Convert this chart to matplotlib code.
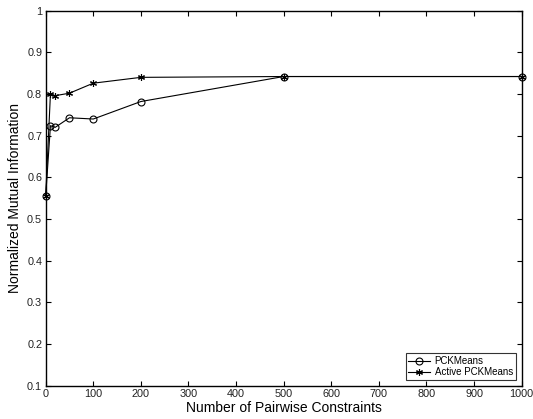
import matplotlib
matplotlib.use("Agg")
import matplotlib.pyplot as plt

plt.rcParams['font.family'] = ['Liberation Sans', 'DejaVu Sans']

constraints = [0, 10, 20, 50, 100, 200, 500, 1000]
pckmeans = [0.555, 0.724, 0.720, 0.743, 0.740, 0.782, 0.842, 0.842]
active_pckmeans = [0.555, 0.800, 0.796, 0.802, 0.826, 0.840, 0.842, 0.842]
xticks = [0, 100, 200, 300, 400, 500, 600, 700, 800, 900, 1000]
yticks = [0.1, 0.2, 0.3, 0.4, 0.5, 0.6, 0.7, 0.8, 0.9, 1]

fig = plt.figure(figsize=(5.33, 4.19), dpi=100)
ax = fig.add_axes([0.0857, 0.0795, 0.8931, 0.895])

ax.plot(constraints, pckmeans, color='black', lw=0.8, marker='o', ms=5,
        mfc='none', mec='black', mew=0.8, label='PCKMeans', clip_on=False)
ax.plot(constraints, active_pckmeans, color='black', lw=0.8, marker=(6, 2, 0), ms=5,
        mec='black', mew=0.8, label='Active PCKMeans', clip_on=False)

ax.set_xlim(0, 1000)
ax.set_ylim(0.1, 1)
ax.set_xticks(xticks)
ax.set_xticklabels([str(t) for t in xticks])
ax.set_yticks(yticks)
ax.set_yticklabels(['0.1', '0.2', '0.3', '0.4', '0.5', '0.6', '0.7', '0.8', '0.9', '1'])
ax.tick_params(direction='in', top=True, right=True, labelsize=7.8, length=3.5, width=0.8,
               pad=2.5, labelcolor='#222222')
for s in ax.spines.values():
    s.set_linewidth(1.0)

ax.set_xlabel('Number of Pairwise Constraints', fontsize=10, labelpad=1)
ax.set_ylabel('Normalized Mutual Information', fontsize=10, labelpad=4)

leg = ax.legend(loc='lower right', fontsize=7, frameon=True, fancybox=False,
                edgecolor='black', borderpad=0.3, labelspacing=0.1, handlelength=2.2,
                handletextpad=0.5, borderaxespad=0.6)
leg.get_frame().set_linewidth(0.8)

fig.savefig('out.png', dpi=100)
